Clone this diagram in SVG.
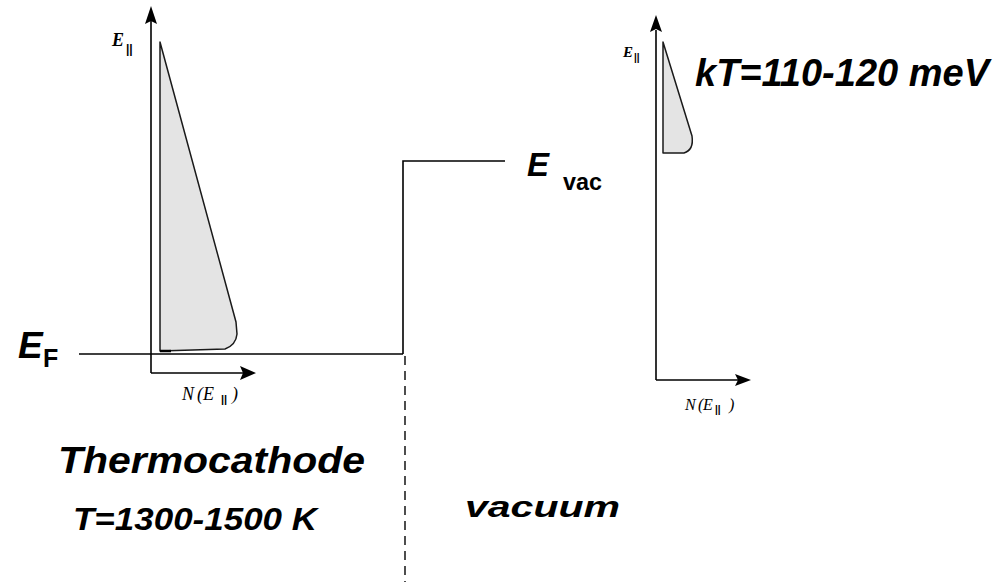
<svg xmlns="http://www.w3.org/2000/svg" width="1001" height="582" viewBox="0 0 1001 582">
<style>
.ax{stroke:#000;stroke-width:1.6;fill:none}
.lv{stroke:#000;stroke-width:1.6;fill:none}
.dist{fill:#e4e4e4;stroke:#1a1a1a;stroke-width:1.5;stroke-linejoin:round}
.big{font-family:"Liberation Sans",Arial,sans-serif;font-weight:bold;font-style:italic;fill:#000}
.sub{font-family:"Liberation Sans",Arial,sans-serif;font-weight:bold;fill:#000}
.sm{font-family:"Liberation Serif","Times New Roman",serif;font-style:italic;fill:#000}
.smb{font-family:"Liberation Serif","Times New Roman",serif;font-style:italic;font-weight:bold;fill:#000}
.smu{font-family:"Liberation Sans",Arial,sans-serif;font-weight:bold;fill:#000}
.ah{fill:#000;stroke:none}
</style>
<rect width="1001" height="582" fill="#fff"/>

<g id="left-plot">
  <path class="dist" d="M160,42 L236,322 L237,334 Q236,345 225,349 L160,351 Z"/>
  <line x1="160" y1="351" x2="171" y2="351" stroke="#000" stroke-width="2.5"/>
  <line class="ax" x1="151" y1="20" x2="151" y2="373"/>
  <line class="ax" x1="151" y1="373" x2="243" y2="373"/>
  <polygon class="ah" points="151,6 145,24 151,21 157,24"/>
  <polygon class="ah" points="256,373 240,366 243,373 240,380"/>
  <text class="smb" x="112" y="46" font-size="18">E</text>
  <text class="smu" x="126" y="53" font-size="12">||</text>
  <text class="sm" font-size="18" y="400"><tspan x="182">N</tspan><tspan x="197">(</tspan><tspan x="203">E</tspan></text>
  <text class="smu" x="221" y="403" font-size="11">||</text>
  <text class="sm" x="232" y="400" font-size="18">)</text>
</g>

<g id="right-plot">
  <path class="dist" d="M663,42 L692,136 Q694,150 684,153 L663,153 Z"/>
  <line class="ax" x1="656" y1="30" x2="656" y2="380"/>
  <line class="ax" x1="656" y1="380" x2="738" y2="380"/>
  <polygon class="ah" points="656,15 650,32 656,29 662,32"/>
  <polygon class="ah" points="751,380 735,374 738,380 735,386"/>
  <text class="smb" x="623" y="57" font-size="15">E</text>
  <text class="smu" x="634" y="61" font-size="10">||</text>
  <text class="sm" font-size="16" y="410"><tspan x="685">N</tspan><tspan x="698">(</tspan><tspan x="703">E</tspan></text>
  <text class="smu" x="715" y="413" font-size="10">||</text>
  <text class="sm" x="729" y="410" font-size="16">)</text>
</g>

<g id="connectors">
  <line class="lv" x1="79" y1="354" x2="403" y2="354"/>
  <polyline class="lv" points="403,354 403,161 505,161"/>
  <line x1="405" y1="356" x2="405" y2="582" stroke="#222" stroke-width="1.6" stroke-dasharray="9,6"/>
</g>

<g id="label-EF">
  <text class="big" x="18" y="358" font-size="37">E</text>
  <text class="sub" x="43" y="367" font-size="25">F</text>
</g>
<g id="label-Evac">
  <text class="big" x="527" y="176" font-size="33">E</text>
  <text class="sub" x="563" y="190" font-size="24" textLength="39" lengthAdjust="spacingAndGlyphs">vac</text>
</g>
<g id="label-kT">
  <text class="big" x="695" y="86" font-size="38" textLength="294" lengthAdjust="spacingAndGlyphs">kT=110-120 meV</text>
</g>
<g id="label-thermocathode">
  <text class="big" x="58" y="473" font-size="37" textLength="307" lengthAdjust="spacingAndGlyphs">Thermocathode</text>
  <text class="big" x="73" y="530" font-size="32" textLength="244" lengthAdjust="spacingAndGlyphs">T=1300-1500 K</text>
</g>
<g id="label-vacuum">
  <text class="big" x="465" y="517" font-size="30" textLength="155" lengthAdjust="spacingAndGlyphs">vacuum</text>
</g>
</svg>
